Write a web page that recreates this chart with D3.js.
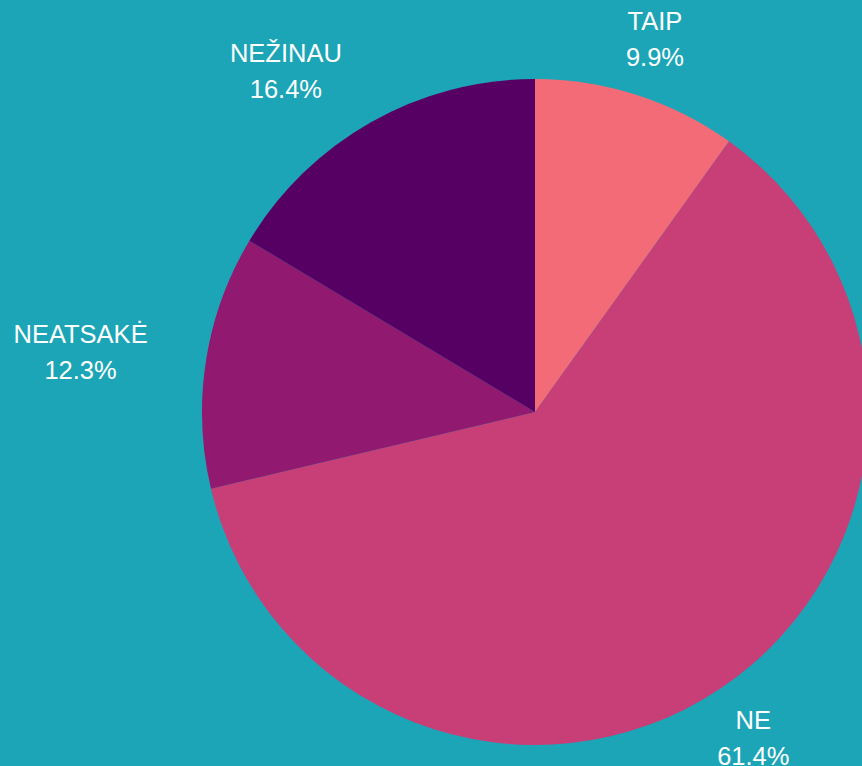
<!DOCTYPE html>
<html>
<head>
<meta charset="utf-8">
<script src="https://cdn.jsdelivr.net/npm/d3@7"></script>
<style>
  html, body { margin: 0; padding: 0; background: #1ca5b6; overflow: hidden; }
  svg { display: block; }
  .label { font-family: "Liberation Sans", Arial, sans-serif; font-size: 25.5px; fill: #ffffff; }
</style>
</head>
<body>
<div id="chart"></div>
<script>
const categories = ['TAIP', 'NE', 'NEATSAKĖ', 'NEŽINAU'];
const values = [9.9, 61.4, 12.3, 16.4];
const colors = ['#f46b78', '#c83f77', '#91196f', '#570063'];

const width = 862;
const height = 766;
const cx = 535, cy = 412;
const radius = 333;
const labelRadius = 392;

const data = categories.map((c, i) => ({ name: c, value: values[i] }));

const svg = d3.select('#chart')
    .append('svg')
    .attr('width', width)
    .attr('height', height);

svg.append('rect')
    .attr('width', width)
    .attr('height', height)
    .attr('fill', '#1ca5b6');

const pie = d3.pie()
    .sort(null)
    .value((d) => d.value);

const arc = d3.arc().innerRadius(0).outerRadius(radius);
const labelArc = d3.arc().innerRadius(labelRadius).outerRadius(labelRadius);

const g = svg.append('g').attr('transform', `translate(${cx}, ${cy})`);

const arcs = pie(data);

g.selectAll('path')
    .data(arcs)
    .join('path')
    .attr('d', arc)
    .attr('fill', (d, i) => colors[i]);

const fmt = d3.format('.1f');

const labels = g.selectAll('g.lbl')
    .data(arcs)
    .join('g')
    .attr('class', 'lbl');

labels.each(function (d) {
    const [x, y] = labelArc.centroid(d);
    const el = d3.select(this);
    const t1 = el.append('text').attr('class', 'label')
        .attr('text-anchor', 'middle')
        .attr('y', y - 9)
        .text(d.data.name);
    const t2 = el.append('text').attr('class', 'label')
        .attr('text-anchor', 'middle')
        .attr('y', y + 27)
        .text(fmt(d.data.value) + '%');
    // labels on the left side sit fully outside the anchor point
    let shift = 0;
    if (x < 0) {
        const w = Math.max(t1.node().getComputedTextLength(), t2.node().getComputedTextLength());
        shift = -w / 2;
    }
    t1.attr('x', x + shift);
    t2.attr('x', x + shift);
});
</script>
</body>
</html>
